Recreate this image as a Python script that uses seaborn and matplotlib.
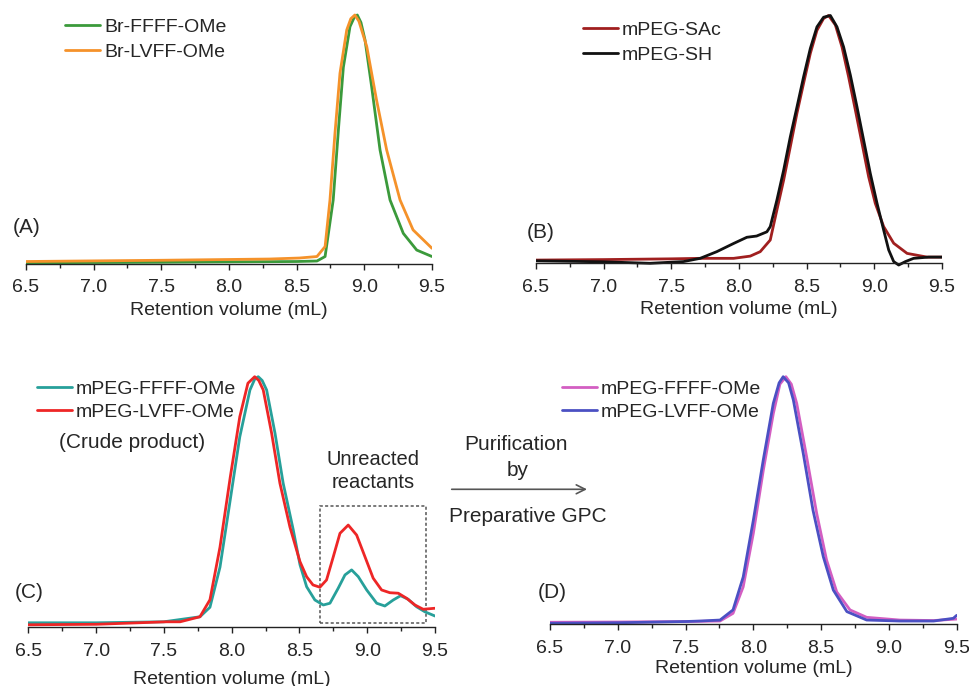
"""
GPC traces of the peptide / mPEG conjugates, panels (A)-(D)
"""

import numpy as np
import matplotlib
matplotlib.use('Agg')
import matplotlib.pyplot as plt
from matplotlib.ticker import MultipleLocator
from matplotlib.patches import Rectangle
import seaborn as sns

# ---- data (normalised intensity) ----
# (A) ATRP initiators
a_vol_ffff = [6.5, 7.5, 8.5, 8.65, 8.71, 8.77, 8.81, 8.845, 8.894, 8.925, 8.948, 8.975,
              9.005, 9.054, 9.116, 9.19, 9.288, 9.387, 9.5]
a_int_ffff = [0.005, 0.007, 0.01, 0.012, 0.03, 0.257, 0.55, 0.79, 0.953, 0.99, 1.0, 0.97,
              0.90, 0.712, 0.458, 0.257, 0.123, 0.056, 0.03]
a_vol_lvff = [6.5, 7.5, 8.3, 8.52, 8.65, 8.71, 8.746, 8.783, 8.82, 8.87, 8.90, 8.93, 8.96,
              9.018, 9.09, 9.165, 9.264, 9.36, 9.5]
a_int_lvff = [0.01, 0.015, 0.02, 0.024, 0.03, 0.07, 0.257, 0.525, 0.766, 0.94, 0.985, 1.0,
              0.975, 0.873, 0.659, 0.458, 0.257, 0.137, 0.063]

# (B) mPEG before / after deprotection
b_vol_sac = [6.5, 7.0, 7.5, 7.71, 7.96, 8.083, 8.157, 8.231, 8.28, 8.33, 8.379, 8.428, 8.477,
             8.527, 8.576, 8.625, 8.662, 8.712, 8.761, 8.81, 8.86, 8.909, 8.958, 9.007, 9.069,
             9.143, 9.242, 9.39, 9.5]
b_int_sac = [0.013, 0.015, 0.018, 0.02, 0.02, 0.029, 0.047, 0.094, 0.215, 0.336, 0.47, 0.605,
             0.726, 0.847, 0.94, 0.988, 1.0, 0.962, 0.873, 0.752, 0.618, 0.484, 0.349, 0.242,
             0.148, 0.081, 0.04, 0.025, 0.025]
b_vol_sh = [6.5, 7.0, 7.343, 7.59, 7.713, 7.836, 7.96, 8.058, 8.13, 8.206, 8.231, 8.28, 8.33,
            8.379, 8.428, 8.477, 8.527, 8.576, 8.625, 8.675, 8.724, 8.773, 8.823, 8.872, 8.921,
            8.97, 9.02, 9.069, 9.106, 9.143, 9.18, 9.23, 9.29, 9.4, 9.5]
b_int_sh = [0.01, 0.006, 0.0, 0.007, 0.02, 0.047, 0.08, 0.105, 0.11, 0.127, 0.148, 0.255,
            0.376, 0.51, 0.63, 0.752, 0.867, 0.954, 0.993, 1.0, 0.954, 0.873, 0.759, 0.631,
            0.497, 0.363, 0.242, 0.134, 0.054, 0.007, -0.007, 0.007, 0.02, 0.025, 0.025]

# (C) crude conjugates
c_vol_ffff = [6.5, 7.0, 7.5, 7.766, 7.84, 7.914, 7.99, 8.06, 8.135, 8.17, 8.196, 8.225, 8.258,
              8.32, 8.38, 8.454, 8.504, 8.553, 8.614, 8.676, 8.725, 8.786, 8.836, 8.885,
              8.934, 8.996, 9.07, 9.13, 9.192, 9.246, 9.302, 9.364, 9.425, 9.5]
c_int_ffff = [0.018, 0.018, 0.022, 0.042, 0.08, 0.24, 0.51, 0.76, 0.947, 0.99, 1.0, 0.985,
              0.947, 0.774, 0.575, 0.39, 0.25, 0.162, 0.109, 0.089, 0.096, 0.156, 0.209,
              0.229, 0.202, 0.149, 0.096, 0.085, 0.109, 0.126, 0.112, 0.082, 0.062, 0.045]
c_vol_lvff = [6.5, 7.0, 7.52, 7.62, 7.766, 7.84, 7.914, 7.99, 8.06, 8.12, 8.17, 8.20, 8.233,
              8.295, 8.356, 8.43, 8.504, 8.553, 8.60, 8.651, 8.70, 8.75, 8.799, 8.86, 8.922,
              8.983, 9.044, 9.106, 9.167, 9.229, 9.29, 9.352, 9.413, 9.5]
c_int_lvff = [0.01, 0.012, 0.022, 0.022, 0.042, 0.11, 0.32, 0.60, 0.84, 0.974, 1.0, 0.985,
              0.947, 0.774, 0.575, 0.40, 0.262, 0.202, 0.169, 0.16, 0.189, 0.282, 0.375,
              0.408, 0.368, 0.282, 0.196, 0.149, 0.138, 0.136, 0.116, 0.089, 0.072, 0.076]

# (D) purified conjugates
d_vol_ffff = [6.5, 7.0, 7.5, 7.754, 7.85, 7.925, 8.0, 8.073, 8.147, 8.196, 8.24, 8.28, 8.32,
              8.393, 8.467, 8.54, 8.615, 8.713, 8.836, 9.08, 9.33, 9.5]
d_int_ffff = [0.007, 0.008, 0.01, 0.012, 0.043, 0.15, 0.367, 0.62, 0.85, 0.97, 1.0, 0.97,
              0.892, 0.676, 0.448, 0.259, 0.13, 0.057, 0.027, 0.016, 0.014, 0.02]
d_vol_lvff = [6.5, 7.0, 7.5, 7.606, 7.754, 7.85, 7.925, 8.0, 8.073, 8.147, 8.19, 8.22, 8.26,
              8.295, 8.368, 8.44, 8.516, 8.59, 8.69, 8.836, 9.08, 9.33, 9.475, 9.5]
d_int_lvff = [0.003, 0.005, 0.01, 0.012, 0.016, 0.057, 0.19, 0.42, 0.663, 0.892, 0.975, 1.0,
              0.975, 0.906, 0.69, 0.46, 0.272, 0.137, 0.05, 0.016, 0.012, 0.012, 0.023, 0.035]

x_ticks = [6.5, 7.0, 7.5, 8.0, 8.5, 9.0, 9.5]
x_label = 'Retention volume (mL)'
box_vol = (8.65, 9.43)     # dashed box around unreacted reactants
box_int = (0.016, 0.485)

W, H = 970, 686
FS = 14

sns.set_style('white')
plt.rcParams['font.family'] = ['Liberation Sans', 'DejaVu Sans']


def fx(x):
    return x / W


def fy(y):
    return 1 - y / H


def make_axes(fig, left, right, axis_y, peak_y, tick_pad, label_pad):
    """axes placed by pixel box; intensity 0 sits on axis_y, 1 on peak_y"""
    unit = axis_y - peak_y
    bottom = axis_y + 0.03 * unit
    top = peak_y - 0.03 * unit
    ax = fig.add_axes([fx(left), fy(bottom), fx(right - left), (bottom - top) / H])
    ax.set_xlim(6.5, 9.5)
    ax.set_ylim(-0.03, 1.03)
    sns.despine(ax=ax, left=True)
    ax.spines['bottom'].set_position(('data', 0))
    ax.spines['bottom'].set_linewidth(1.0)
    ax.spines['bottom'].set_color('#222222')
    ax.set_yticks([])
    ax.set_xticks(x_ticks)
    ax.set_xticklabels([f'{t:.1f}' for t in x_ticks])
    ax.xaxis.set_minor_locator(MultipleLocator(0.25))
    ax.tick_params(axis='x', which='major', direction='out', length=4, width=1,
                   color='#222222', labelsize=FS, pad=tick_pad, bottom=True)
    ax.tick_params(axis='x', which='minor', direction='out', length=3, width=1,
                   color='#222222', bottom=True)
    ax.set_xlabel(x_label, fontsize=FS, labelpad=label_pad)
    ax.patch.set_alpha(0)
    return ax


def add_legend(fig, ax, x, row1_y, spacing):
    handles, labels = ax.get_legend_handles_labels()
    fig.legend(handles=handles, labels=labels,
               loc='upper left', bbox_to_anchor=(fx(x), fy(row1_y - 6.5)),
               bbox_transform=fig.transFigure, frameon=False, fontsize=FS,
               handlelength=1.8, handletextpad=0.2, labelspacing=spacing,
               borderpad=0, borderaxespad=0)
    if ax.get_legend() is not None:
        ax.get_legend().remove()


fig = plt.figure(figsize=(W / 100, H / 100), dpi=100)

# (A)
ax_a = make_axes(fig, 26, 432, 264, 15, 7, 4)
sns.lineplot(x=a_vol_ffff, y=a_int_ffff, ax=ax_a, color='#3b9a3b', lw=2, label='Br-FFFF-OMe')
sns.lineplot(x=a_vol_lvff, y=a_int_lvff, ax=ax_a, color='#f5922a', lw=2, label='Br-LVFF-OMe')
add_legend(fig, ax_a, 65, 25, 0.38)
fig.text(fx(13), fy(227), '(A)', fontsize=15, va='center', ha='left')

# (B)
ax_b = make_axes(fig, 536, 942, 263.3, 15.5, 7, 4)
sns.lineplot(x=b_vol_sac, y=b_int_sac, ax=ax_b, color='#a01f1f', lw=2, label='mPEG-SAc')
sns.lineplot(x=b_vol_sh, y=b_int_sh, ax=ax_b, color='#111111', lw=2, label='mPEG-SH')
add_legend(fig, ax_b, 583, 28, 0.38)
fig.text(fx(527), fy(232), '(B)', fontsize=15, va='center', ha='left')

# (C)
ax_c = make_axes(fig, 28.3, 435, 627.3, 376.7, 7, 8)
sns.lineplot(x=c_vol_ffff, y=c_int_ffff, ax=ax_c, color='#27a09a', lw=2, label='mPEG-FFFF-OMe')
sns.lineplot(x=c_vol_lvff, y=c_int_lvff, ax=ax_c, color='#ee2626', lw=2, label='mPEG-LVFF-OMe')
add_legend(fig, ax_c, 37, 386.7, 0.28)
ax_c.add_patch(Rectangle((box_vol[0], box_int[0]), box_vol[1] - box_vol[0],
                         box_int[1] - box_int[0], fill=False, ec='#555555', lw=1.1,
                         ls=(0, (2, 1.5)), clip_on=False))
fig.text(fx(132), fy(443), '(Crude product)', fontsize=15, ha='center', va='center')
fig.text(fx(373), fy(471), 'Unreacted\nreactants', fontsize=14.5, ha='center', va='center',
         linespacing=1.25)
fig.text(fx(15), fy(592), '(C)', fontsize=15, va='center', ha='left')

# arrow between (C) and (D)
fig.text(fx(516.5), fy(445), 'Purification', fontsize=15, ha='center', va='center')
fig.text(fx(518), fy(471), 'by', fontsize=15, ha='center', va='center')
fig.text(fx(528), fy(516), 'Preparative GPC', fontsize=15, ha='center', va='center')
ax_c.annotate('', xy=(fx(587), fy(489.3)), xytext=(fx(451.7), fy(489.3)),
              xycoords='figure fraction', textcoords='figure fraction',
              arrowprops=dict(arrowstyle='->', color='#555555', lw=1.2, mutation_scale=16,
                              shrinkA=0, shrinkB=0))

# (D)
ax_d = make_axes(fig, 550, 956.7, 624, 376.7, 7.5, 2)
sns.lineplot(x=d_vol_ffff, y=d_int_ffff, ax=ax_d, color='#d35ec2', lw=2, label='mPEG-FFFF-OMe')
sns.lineplot(x=d_vol_lvff, y=d_int_lvff, ax=ax_d, color='#4b50c3', lw=2, label='mPEG-LVFF-OMe')
add_legend(fig, ax_d, 562, 386.7, 0.28)
fig.text(fx(538), fy(592), '(D)', fontsize=15, va='center', ha='left')

fig.savefig('out.png', dpi=100)
